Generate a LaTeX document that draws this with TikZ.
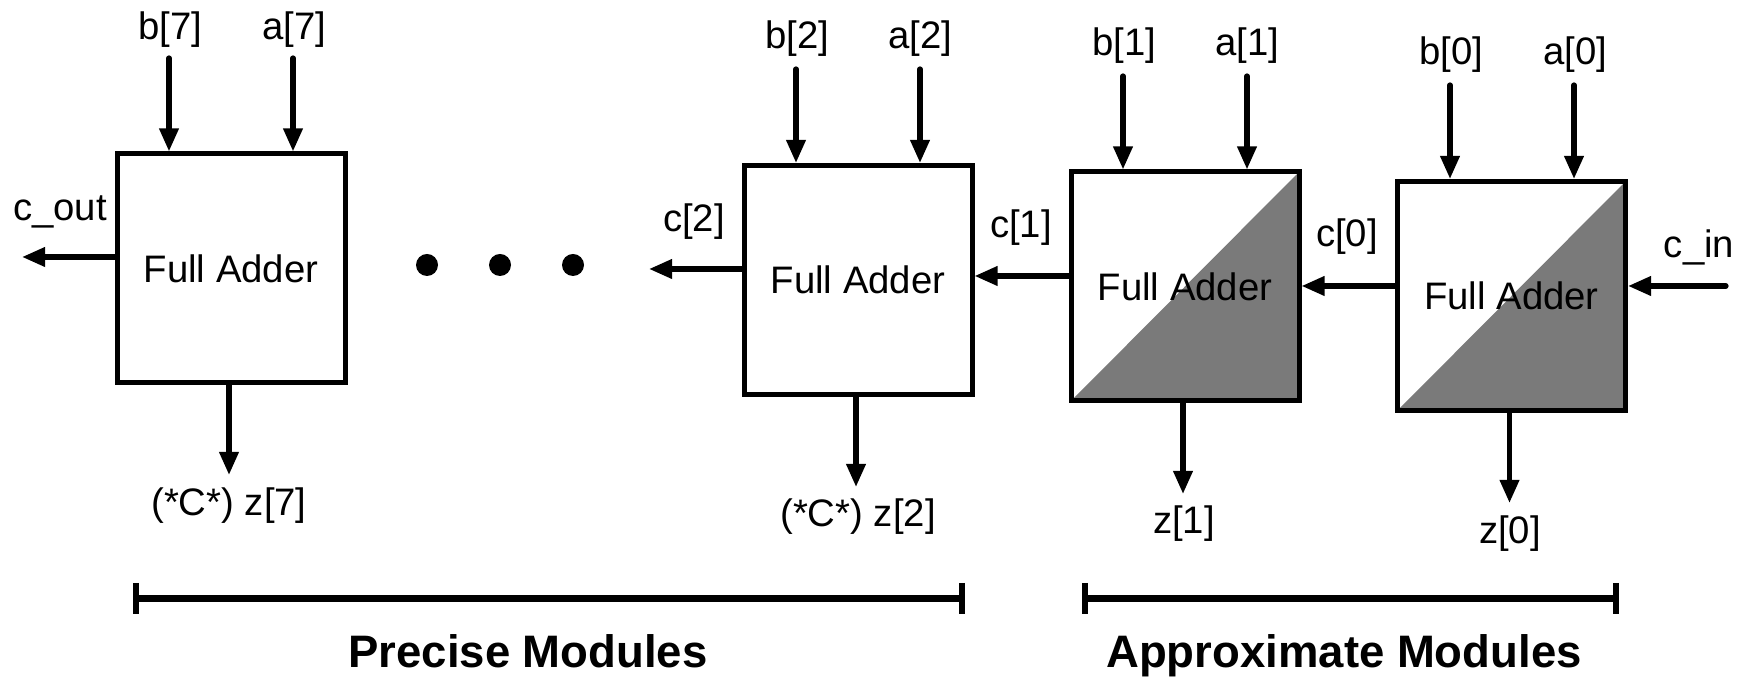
\documentclass[tikz,border=0pt]{standalone}
\usepackage{fontspec}
\setmainfont{Liberation Sans}
\usetikzlibrary{arrows.meta,calc}
\definecolor{apxgray}{HTML}{7A7A7A}
\begin{document}
\begin{tikzpicture}[x=0.1mm,y=-0.1mm,
  fa/.style={draw, line width=0.5mm, rectangle, inner sep=0pt, minimum width=22.8mm, minimum height=22.9mm,
    font=\fontsize{10.9}{13}\selectfont, fill=white},
  apx/.style={fa, path picture={\fill[apxgray] (path picture bounding box.south west) -- (path picture bounding box.south east) -- (path picture bounding box.north east) -- cycle;}},
  arr/.style={line width=0.52mm, line cap=round, -{Triangle[length=2.3mm,width=1.85mm]}},
  lbl/.style={inner sep=0pt, font=\fontsize{10.9}{13}\selectfont},
  grp/.style={inner sep=0pt, anchor=base, font=\fontsize{12.95}{15}\bfseries},
  brk/.style={line width=0.65mm},
  tick/.style={line width=0.6mm}]
\useasboundingbox (0,0) rectangle (1750,679);

% adders
\node[fa]  (fa1) at (231,268.5) {Full Adder};
\node[fa]  (fa2) at (858,280)   {Full Adder};
\node[apx] (fa3) at (1185,286.5) {Full Adder};
\node[apx] (fa4) at (1511.5,296) {Full Adder};

% input labels
\node[lbl] (lb7) at (170,30) {b[7]};
\node[lbl] (la7) at (294,30) {a[7]};
\node[lbl] (lb2) at (797,39) {b[2]};
\node[lbl] (la2) at (920,39) {a[2]};
\node[lbl] (lb1) at (1124,46) {b[1]};
\node[lbl] (la1) at (1247,46) {a[1]};
\node[lbl] (lb0) at (1451,55) {b[0]};
\node[lbl] (la0) at (1575,55) {a[0]};

% input arrow tails
\coordinate (b7) at (169,58);   \coordinate (a7) at (293,58);
\coordinate (b2) at (796,69);   \coordinate (a2) at (920,69);
\coordinate (b1) at (1123,76);  \coordinate (a1) at (1247,76);
\coordinate (b0) at (1450,85);  \coordinate (a0) at (1574,85);
\draw[arr] (b7) -- (b7 |- fa1.north);
\draw[arr] (a7) -- (a7 |- fa1.north);
\draw[arr] (b2) -- (b2 |- fa2.north);
\draw[arr] (a2) -- (a2 |- fa2.north);
\draw[arr] (b1) -- (b1 |- fa3.north);
\draw[arr] (a1) -- (a1 |- fa3.north);
\draw[arr] (b0) -- (b0 |- fa4.north);
\draw[arr] (a0) -- (a0 |- fa4.north);

% outputs
\coordinate (z7) at (229,475);
\coordinate (z2) at (856,487);
\coordinate (z1) at (1183,494);
\coordinate (z0) at (1509.5,503);
\draw[arr] (z7 |- fa1.south) -- (z7);
\draw[arr] (z2 |- fa2.south) -- (z2);
\draw[arr] (z1 |- fa3.south) -- (z1);
\draw[arr] (z0 |- fa4.south) -- (z0);
\node[lbl] (lz7) at (229,506) {(*C*) z[7]};
\node[lbl] (lz2) at (858,517) {(*C*) z[2]};
\node[lbl] (lz1) at (1184,524) {z[1]};
\node[lbl] (lz0) at (1510,534) {z[0]};

% carries
\coordinate (cout) at (22,257);
\coordinate (c2) at (649,269);
\coordinate (c1) at (1000,276);
\coordinate (c0) at (1350,286);
\coordinate (cin) at (1726,286);
\draw[arr] (cout -| fa1.west) -- (cout);
\draw[arr] (c2 -| fa2.west) -- (c2);
\draw[arr] (c1 -| fa3.west) -- (c1 -| fa2.east);
\draw[arr] (c0 -| fa4.west) -- (c0 -| fa3.east);
\draw[arr] (cin) -- (cin -| fa4.east);
\node[lbl] (lcout) at (60,212) {c\_out};
\node[lbl] (lc2) at (694,222) {c[2]};
\node[lbl] (lc1) at (1021,228) {c[1]};
\node[lbl] (lc0) at (1347,237) {c[0]};
\node[lbl] (lcin) at (1699,247) {c\_in};

% ellipsis dots
\fill (427,265) circle[radius=11];
\fill (500,265) circle[radius=11];
\fill (573,265) circle[radius=11];

% brackets
\coordinate (p1) at (136,598.5); \coordinate (p2) at (962,598.5);
\coordinate (q1) at (1085,598.5); \coordinate (q2) at (1616,598.5);
\draw[brk] (p1) -- (p2);
\draw[brk] (q1) -- (q2);
\foreach \c in {p1,p2,q1,q2}{\draw[tick] ($(\c)+(0,-15.5)$) -- ($(\c)+(0,15.5)$);}
\node[grp] (gp) at (528,668) {Precise Modules};
\node[grp] (ga) at (1344,668) {Approximate Modules};
\end{tikzpicture}
\end{document}
